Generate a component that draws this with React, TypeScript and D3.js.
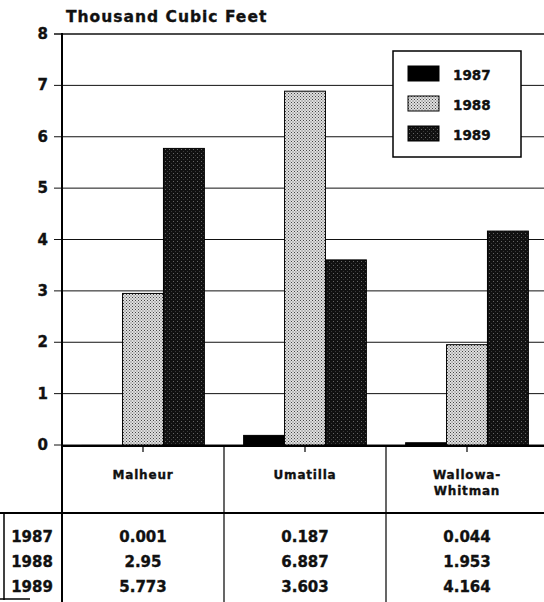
import React from "react";
import * as d3 from "d3";

const categories = ["Malheur", "Umatilla", "Wallowa-Whitman"];
const categoryLines = [["Malheur"], ["Umatilla"], ["Wallowa-", "Whitman"]];
const years = ["1987", "1988", "1989"];
const v1987 = [0.001, 0.187, 0.044];
const v1988 = [2.95, 6.887, 1.953];
const v1989 = [5.773, 3.603, 4.164];
const tableText1987 = ["0.001", "0.187", "0.044"];
const tableText1988 = ["2.95", "6.887", "1.953"];
const tableText1989 = ["5.773", "3.603", "4.164"];
const yTicks = [0, 1, 2, 3, 4, 5, 6, 7, 8];

const W = 544;
const H = 602;
const left = 62;
const right = 548;
const top = 34;
const zeroY = 445;

export default function App() {
  const x = d3.scaleBand<string>().domain(categories).range([left, right]).padding(0);
  const xs = d3.scaleBand<string>().domain(years).range([0, x.bandwidth()]).paddingInner(0).paddingOuter(0.48);
  const y = d3.scaleLinear().domain([0, 8]).range([zeroY, top]);
  const series = [v1987, v1988, v1989];
  const fills = ["#000", "url(#p88)", "url(#p89)"];
  const tableRows = [tableText1987, tableText1988, tableText1989];
  const rowY = [542, 567, 592];
  const font = "'DejaVu Sans', 'Liberation Sans', Arial, sans-serif";
  const heavy = { stroke: "#111", strokeWidth: 0.35 };

  return (
    <svg width={W} height={H} style={{ position: "absolute", left: 0, top: 0, background: "#fff" }} fontFamily={font}>
      <defs>
        <pattern id="p88" width="3" height="3" patternUnits="userSpaceOnUse">
          <rect width="3" height="3" fill="#e0e0e0" />
          <rect x="0" y="0" width="1" height="1" fill="#444" />
          <rect x="1.5" y="1.5" width="1" height="1" fill="#555" />
        </pattern>
        <pattern id="p89" width="4" height="4" patternUnits="userSpaceOnUse">
          <rect width="4" height="4" fill="#111" />
          <rect x="1" y="1" width="1" height="1" fill="#666" />
          <rect x="3" y="3" width="1" height="1" fill="#3a3a3a" />
        </pattern>
      </defs>
      <rect width={W} height={H} fill="#fff" />
      <text x={66} y={22} fontSize={15.5} fontWeight="bold" letterSpacing={1} fill="#111" {...heavy}>Thousand Cubic Feet</text>

      {/* gridlines */}
      {yTicks.map((t) => (
        <line key={t} x1={left - 8} x2={W} y1={y(t)} y2={y(t)} stroke="#111" strokeWidth={t === 8 ? 1.6 : 1} />
      ))}
      {yTicks.map((t) => (
        <text key={"l" + t} x={48} y={y(t) + 5} fontSize={15} fontWeight="bold" textAnchor="end" fill="#111" {...heavy}>{t}</text>
      ))}

      {/* bars */}
      {series.map((vals, si) =>
        categories.map((c, ci) => {
          const x0 = (x(c) as number) + (xs(years[si]) as number);
          const h = zeroY - y(vals[ci]);
          return (
            <rect key={si + "-" + ci} x={x0} y={y(vals[ci])} width={xs.bandwidth()} height={Math.max(h, 0)}
              fill={fills[si]} stroke="#000" strokeWidth={h > 0.5 ? 1 : 0} />
          );
        })
      )}

      {/* axes */}
      <line x1={left} x2={left} y1={top - 1} y2={H} stroke="#000" strokeWidth={2} />
      <line x1={left} x2={W} y1={zeroY + 1} y2={zeroY + 1} stroke="#000" strokeWidth={2} />
      {categories.map((c) => (
        <line key={"t" + c} x1={(x(c) as number) + x.bandwidth() / 2} x2={(x(c) as number) + x.bandwidth() / 2}
          y1={zeroY} y2={zeroY + 7} stroke="#000" strokeWidth={1.2} />
      ))}
      {categories.slice(1).map((c) => (
        <line key={"d" + c} x1={x(c) as number} x2={x(c) as number} y1={zeroY} y2={H} stroke="#000" strokeWidth={1.2} />
      ))}

      {/* category labels */}
      {categories.map((c, ci) =>
        categoryLines[ci].map((ln, li) => (
          <text key={c + li} x={(x(c) as number) + x.bandwidth() / 2} y={479 + li * 16} fontSize={12}
            fontWeight="bold" letterSpacing={0.8} textAnchor="middle" fill="#111" {...heavy}>{ln}</text>
        ))
      )}

      {/* table */}
      <line x1={0} x2={W} y1={513} y2={513} stroke="#000" strokeWidth={2} />
      <line x1={4} x2={4} y1={513} y2={600} stroke="#000" strokeWidth={1.5} />
      <line x1={0} x2={30} y1={599} y2={599} stroke="#000" strokeWidth={1.5} />
      {years.map((yr, ri) => (
        <text key={"y" + yr} x={32} y={rowY[ri]} fontSize={15} fontWeight="bold" textAnchor="middle" fill="#111" {...heavy}>{yr}</text>
      ))}
      {tableRows.map((row, ri) =>
        categories.map((c, ci) => (
          <text key={ri + "v" + ci} x={(x(c) as number) + x.bandwidth() / 2} y={rowY[ri]} fontSize={15}
            fontWeight="bold" textAnchor="middle" fill="#111" {...heavy}>{row[ci]}</text>
        ))
      )}

      {/* legend */}
      <rect x={393} y={51} width={128} height={106} fill="#fff" stroke="#000" strokeWidth={1.5} />
      {years.map((yr, i) => (
        <g key={"lg" + yr}>
          <rect x={408} y={66 + i * 30} width={31} height={15} fill={fills[i]} stroke="#000" strokeWidth={1} />
          <text x={453} y={80 + i * 30} fontSize={13.5} fontWeight="bold" fill="#111" {...heavy}>{yr}</text>
        </g>
      ))}
    </svg>
  );
}
